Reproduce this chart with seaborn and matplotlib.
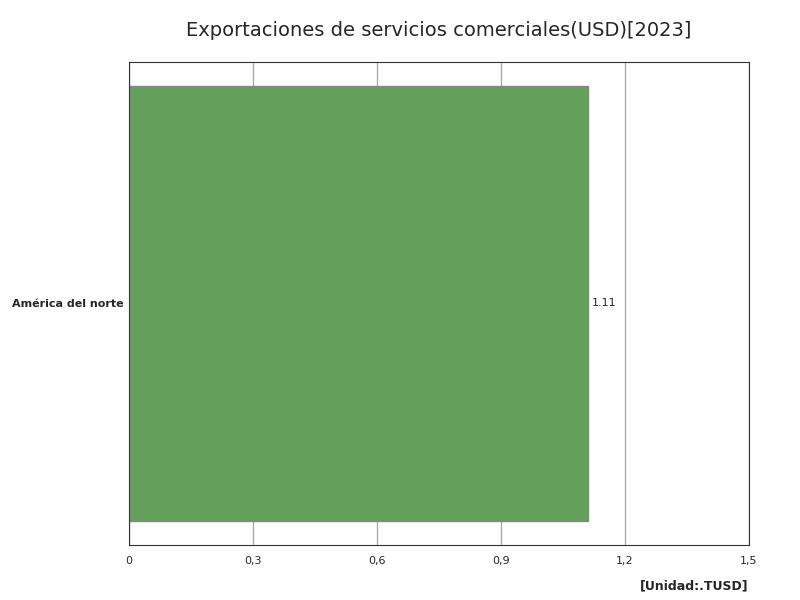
import pandas as pd
import matplotlib.pyplot as plt
import seaborn as sns

regions = ['América del norte']
values = [1.11]
ticks = [0, 0.3, 0.6, 0.9, 1.2, 1.5]
tick_labels = ['0', '0,3', '0,6', '0,9', '1,2', '1,5']

df = pd.DataFrame({'region': regions, 'value': values})

sns.set_style('white')
plt.rcParams['font.family'] = ['DejaVu Sans']

fig = plt.figure(figsize=(8, 6), dpi=100)
ax = fig.add_axes([0.161, 0.092, 0.775, 0.805])

sns.barplot(data=df, x='value', y='region', orient='h', color='#62a05b',
            saturation=1, width=0.9, edgecolor='#888888', linewidth=1, ax=ax, zorder=2)

ax.set_xlim(0, 1.5)
ax.set_ylim(0.5, -0.5)
ax.set_xticks(ticks)
ax.set_xticklabels(tick_labels, fontsize=8)
ax.tick_params(axis='y', labelsize=8, length=0)
ax.tick_params(axis='x', length=0, pad=8)
for lbl in ax.get_yticklabels():
    lbl.set_fontweight('bold')
ax.grid(axis='x', color='#aaaaaa', linewidth=1, zorder=0)
ax.set_axisbelow(True)
for s in ax.spines.values():
    s.set_color('#333333')
ax.set_xlabel('')
ax.set_ylabel('')

for i, v in enumerate(values):
    ax.text(v + 0.01, i, f'{v:.2f}', va='center', ha='left', fontsize=8)

fig.suptitle('Exportaciones de servicios comerciales(USD)[2023]', fontsize=14, y=0.965, x=0.548)
fig.text(0.936, 0.018, '[Unidad:.TUSD]', ha='right', fontsize=9, fontweight='bold')

fig.savefig('out.png')
